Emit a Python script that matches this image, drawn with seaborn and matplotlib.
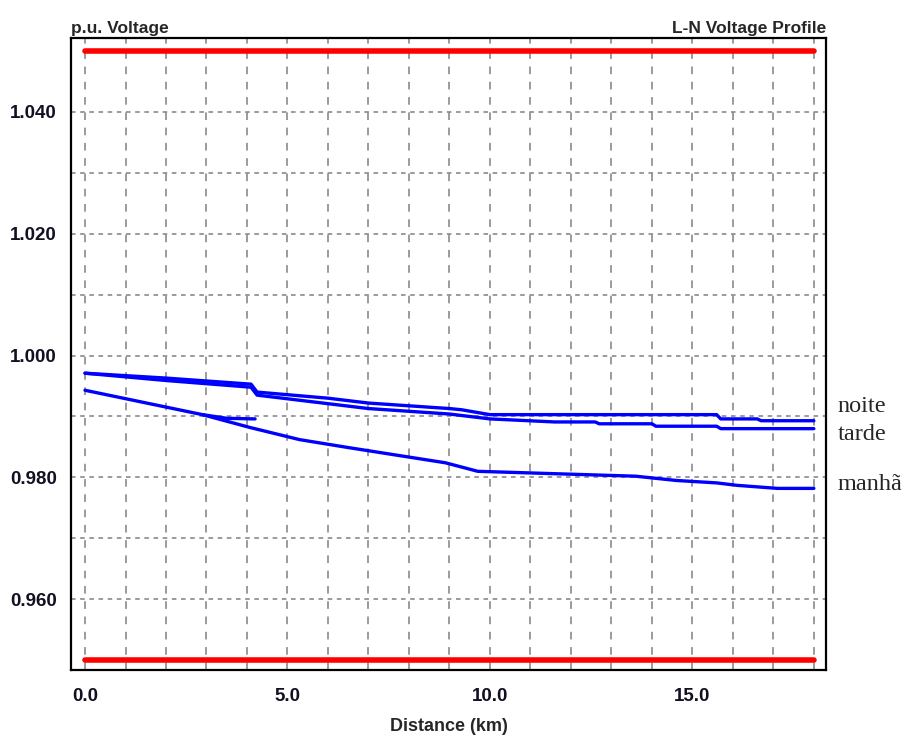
import matplotlib
matplotlib.use("Agg")
import matplotlib.pyplot as plt
import seaborn as sns
import numpy as np
import pandas as pd

# voltage profile data (distance in km, voltage in p.u.)
noite_km = [0, 2, 4.1, 4.25, 6, 7, 9, 9.3, 10, 12.5, 15.6, 15.7, 16.6, 16.7, 18]
noite_v = [0.9971, 0.9963, 0.9953, 0.9940, 0.9930, 0.9922, 0.9913, 0.9911, 0.9903,
           0.9903, 0.9903, 0.9896, 0.9896, 0.9893, 0.9893]

tarde_km = [0, 2, 4.1, 4.25, 6, 7, 9, 10, 11.6, 12.6, 12.7, 14.0, 14.1, 15.6, 15.7, 18]
tarde_v = [0.9971, 0.9959, 0.9948, 0.9935, 0.9921, 0.9913, 0.9904, 0.9896, 0.9891,
           0.9891, 0.9888, 0.9888, 0.9884, 0.9884, 0.9880, 0.9880]

manha_km = [0, 2.9, 4.07, 5.3, 6.5, 8.9, 9.7, 11.65, 13.6, 14.6, 15.6, 16.1, 17.1, 18]
manha_v = [0.9943, 0.9903, 0.9882, 0.9862, 0.9849, 0.9824, 0.9810, 0.9806, 0.9802,
           0.9795, 0.9791, 0.9787, 0.9782, 0.9782]

# short lateral branch on the morning profile
ramal_km = [2.9, 3.5, 4.2]
ramal_v = [0.9903, 0.9897, 0.9896]

limit_km = [0, 18]
upper_limit = [1.05, 1.05]
lower_limit = [0.95, 0.95]

series_labels = ["noite", "tarde", "manhã"]
x_ticks = np.arange(0, 19, 1)
x_labels = ["0.0" if t == 0 else ("%.1f" % t if t % 5 == 0 else "") for t in x_ticks]
y_ticks = [0.960, 0.980, 1.000, 1.020, 1.040]

sns.set_theme(style="white")
plt.rcParams['font.family'] = ['Liberation Sans', 'DejaVu Sans']

fig = plt.figure(figsize=(9.12, 7.40), dpi=100)
ax = fig.add_axes([71 / 912, 1 - 670 / 740, (826 - 71) / 912, (670 - 38) / 740])

# grid
for t in x_ticks:
    ax.axvline(t, color="#808080", lw=1.1, ls=(0, (5, 5)), zorder=0)
for v in np.arange(0.96, 1.041, 0.01):
    ax.axhline(v, color="#808080", lw=1.1, ls=(0, (3, 3)), zorder=0)

blue = "#0000ff"
red = "#ff0000"

for km, v in [(noite_km, noite_v), (tarde_km, tarde_v), (manha_km, manha_v), (ramal_km, ramal_v)]:
    df = pd.DataFrame({"km": km, "v": v})
    sns.lineplot(data=df, x="km", y="v", ax=ax, color=blue, lw=2.4,
                 sort=False, estimator=None, zorder=3)

for lim in [upper_limit, lower_limit]:
    df = pd.DataFrame({"km": limit_km, "v": lim})
    sns.lineplot(data=df, x="km", y="v", ax=ax, color=red, lw=4,
                 sort=False, estimator=None, zorder=4, solid_capstyle="round")

ax.set_xlim(-0.346, 18.30)
ax.set_ylim(0.9484, 1.0521)
ax.set_xticks(x_ticks)
ax.set_xticklabels(x_labels)
ax.set_yticks(y_ticks)
ax.set_yticklabels(["%.3f" % y for y in y_ticks])
ax.tick_params(axis="both", direction="out", length=7, width=1.3, colors="black",
               labelsize=13.5, pad=3)
ax.tick_params(axis="x", pad=6)
for lab in ax.get_xticklabels() + ax.get_yticklabels():
    lab.set_fontweight("bold")
    lab.set_color("#111122")

for s in ax.spines.values():
    s.set_visible(True)
    s.set_color("black")
    s.set_linewidth(1.6)

ax.set_xlabel("Distance (km)", fontsize=13, fontweight="bold", labelpad=9)
ax.set_ylabel("")
ax.text(0, 1.003, "p.u. Voltage", transform=ax.transAxes, fontsize=12.5,
        fontweight="bold", ha="left", va="bottom")
ax.text(1, 1.003, "L-N Voltage Profile", transform=ax.transAxes, fontsize=12.5,
        fontweight="bold", ha="right", va="bottom")

# series labels at right
label_y = [0.9917, 0.9870, 0.9788]
for lab, yv in zip(series_labels, label_y):
    ax.text(18.59, yv, lab, fontsize=17.5, family=["Liberation Serif", "DejaVu Serif"],
            ha="left", va="center", clip_on=False)

fig.savefig("out.png", dpi=100)
